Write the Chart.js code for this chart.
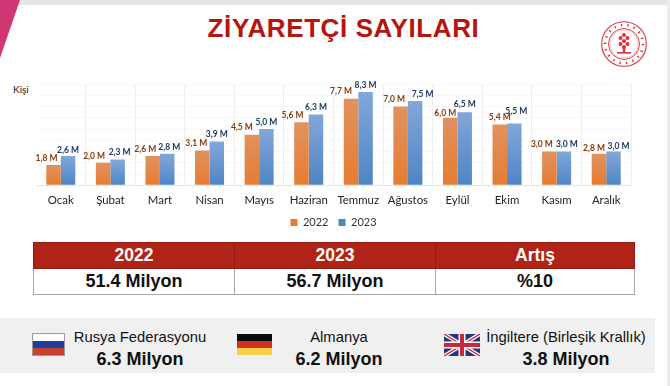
<!DOCTYPE html>
<html lang="tr">
<head>
<meta charset="utf-8">
<title>Ziyaretçi Sayıları</title>
<script src="https://cdn.jsdelivr.net/npm/chart.js@4/dist/chart.umd.min.js"></script>
<style>
html, body { margin: 0; padding: 0; background: #fff; }
#slide { position: relative; width: 670px; height: 386px; overflow: hidden; background: #fff; font-family: "Liberation Sans", Arial, sans-serif; color: #111; }
#slide > * { position: absolute; }
#topbar { left: 0; top: 0; width: 670px; height: 5px; background: #e6e6e6; }
#rightbar { left: 667px; top: 0; width: 3px; height: 386px; background: #ececec; }
#corner { left: 0; top: 0; }
#title { left: 0; width: 687px; top: 13px; text-align: center; font-weight: bold; font-size: 26px; letter-spacing: 0.6px; color: #b5140f; }
#kisi { left: 13px; top: 83px; font: 10px Lato, sans-serif; color: #222; }
#chartbox { left: 36px; top: 78px; width: 599px; height: 160px; }
#logo { left: 600px; top: 21px; }
table { left: 33px; top: 242px; width: 601px; height: 51px; border-collapse: collapse; table-layout: fixed; text-align: center; font-weight: bold; }
th { background: #b02418; color: #fff; font-size: 17.5px; height: 25px; padding: 0; border: 1px solid #8f1d13; }
td { font-size: 18px; height: 25px; padding: 0; border: 1px solid #a8a8a8; }
#band { left: 0; top: 318px; width: 655px; height: 55px; background: #f0f0f0; }
.c { text-align: center; width: 200px; font-size: 14.8px; line-height: 18px; }
.c b { display: block; font-size: 18px; line-height: 22px; margin-top: 2px; }
.flag { display: block; }
</style>
</head>
<body>
<div id="slide">
  <div id="topbar"></div>
  <div id="rightbar"></div>
  <svg id="corner" width="24" height="60"><polygon points="0,0 20,0 0,58" fill="#cf3672"/></svg>
  <div id="title">ZİYARETÇİ SAYILARI</div>
  <svg id="logo" width="48" height="48" viewBox="0 0 48 48" fill="none" stroke="#d9343c">
    <circle cx="24" cy="23" r="22.3" stroke-width="1.1"/>
    <circle cx="24" cy="23" r="19" stroke-width="2.6" stroke-dasharray="1.3 5.3"/>
    <circle cx="24" cy="23" r="15.5" stroke-width="0.9"/>
    <circle cx="24" cy="23" r="14" stroke-width="0.6" stroke-dasharray="1 1"/>
    <g fill="#d9343c" stroke="none">
      <circle cx="24" cy="14" r="2"/><circle cx="20.5" cy="17" r="2"/><circle cx="27.5" cy="17" r="2"/>
      <circle cx="24" cy="20" r="2"/><circle cx="20.5" cy="23" r="2"/><circle cx="27.5" cy="23" r="2"/>
      <circle cx="24" cy="26" r="2"/><rect x="22.8" y="26" width="2.4" height="6"/>
      <rect x="17" y="31" width="14" height="1.6"/>
    </g>
  </svg>
  <div id="kisi">Kişi</div>
  <div id="chartbox"><canvas id="visitors_chart"></canvas></div>
  <table>
    <colgroup><col style="width:201px"><col style="width:201px"><col style="width:199px"></colgroup>
    <tr><th>2022</th><th>2023</th><th>Artış</th></tr>
    <tr><td>51.4 Milyon</td><td>56.7 Milyon</td><td>%10</td></tr>
  </table>
  <div id="band"></div>
  <svg class="flag" style="left:32px;top:333px" width="33" height="23">
    <rect x="0.5" y="0.5" width="32" height="22" fill="#fff" stroke="#999"/>
    <rect x="1" y="8" width="31" height="7" fill="#1c3f9e"/>
    <rect x="1" y="15" width="31" height="7" fill="#c8402f"/>
  </svg>
  <div class="c" style="left:40px;top:328px">Rusya Federasyonu<b>6.3 Milyon</b></div>
  <svg class="flag" style="left:237px;top:334px" width="35" height="21">
    <rect width="35" height="7" fill="#0a0a0a"/>
    <rect y="7" width="35" height="7" fill="#d5301f"/>
    <rect y="14" width="35" height="7" fill="#f7d046"/>
  </svg>
  <div class="c" style="left:239px;top:328px">Almanya<b>6.2 Milyon</b></div>
  <svg class="flag" style="left:444px;top:334px" width="36" height="22" viewBox="0 0 36 22">
    <rect width="36" height="22" fill="#27357a"/>
    <path d="M0 0L36 22M36 0L0 22" stroke="#fff" stroke-width="4"/>
    <path d="M0 0L36 22M36 0L0 22" stroke="#c8283c" stroke-width="1.4"/>
    <path d="M18 0V22M0 11H36" stroke="#fff" stroke-width="7"/>
    <path d="M18 0V22M0 11H36" stroke="#c8283c" stroke-width="4"/>
  </svg>
  <div class="c" style="left:466px;top:328px;width:200px;white-space:nowrap">İngiltere (Birleşik Krallık)<b>3.8 Milyon</b></div>
</div>
<script>
let months = ['Ocak', 'Şubat', 'Mart', 'Nisan', 'Mayıs', 'Haziran', 'Temmuz', 'Ağustos', 'Eylül', 'Ekim', 'Kasım', 'Aralık'];
let visitors2022 = [1.8, 2.0, 2.6, 3.1, 4.5, 5.6, 7.7, 7.0, 6.0, 5.4, 3.0, 2.8];
let visitors2023 = [2.6, 2.3, 2.8, 3.9, 5.0, 6.3, 8.3, 7.5, 6.5, 5.5, 3.0, 3.0];

// bar fill fades a bit towards the top, like the slide
function barFill(top, bottom) {
    return function(ctx) {
        let chart = ctx.chart;
        if (!chart.chartArea || ctx.raw === undefined) return bottom;
        let g = chart.ctx.createLinearGradient(0, chart.scales.y.getPixelForValue(ctx.raw), 0, chart.chartArea.bottom);
        g.addColorStop(0, top);
        g.addColorStop(1, bottom);
        return g;
    };
}

// value labels were dragged by hand on the slide, so each one has its own nudge from the bar centre
let valueLabels = {
    id: 'valueLabels',
    afterDatasetsDraw: function(chart) {
        let c = chart.ctx;
        let nudgeX = [
            [-7, -9, -7.5, -6, -10, -9, -10, -6.5, -5, 0, -7.5, -5],
            [0, 2, 2, 0, 0, 0, 0, 7.5, 0, 2, 3, 5]
        ];
        let nudgeY = [
            [7, 7, 7, 7, 7, 7, 7, 7, 5, 7, 7, 6],
            [6, 7, 7, 7, 7, 7, 7, 7, 8, 12, 7, 5]
        ];
        let colors = ['#843c0c', '#1f3864'];
        c.save();
        c.font = 'bold 8.5px Lato, sans-serif';
        c.textAlign = 'center';
        c.textBaseline = 'middle';
        chart.data.datasets.forEach(function(ds, d) {
            c.fillStyle = colors[d];
            chart.getDatasetMeta(d).data.forEach(function(bar, i) {
                let text = ds.data[i].toFixed(1).replace('.', ',') + ' M';
                c.fillText(text, bar.x + nudgeX[d][i], bar.y - nudgeY[d][i]);
            });
        });
        c.restore();
    }
};

let visitorsChart = new Chart(document.getElementById('visitors_chart'), {
    type: 'bar',
    data: {
        labels: months,
        datasets: [
            {
                label: '2022',
                data: visitors2022,
                backgroundColor: barFill('#e0925f', '#e67c32'),
                categoryPercentage: 0.585,
                barPercentage: 1
            },
            {
                label: '2023',
                data: visitors2023,
                backgroundColor: barFill('#82a7d9', '#4e85c5'),
                categoryPercentage: 0.585,
                barPercentage: 1
            }
        ]
    },
    options: {
        responsive: true,
        maintainAspectRatio: false,
        animation: false,
        layout: { padding: { top: 6, right: 4, bottom: 0, left: 0 } },
        scales: {
            x: {
                grid: { color: '#ececec', drawTicks: false },
                border: { color: '#e4e4e4' },
                ticks: { color: '#222', font: { family: 'Lato', size: 11.4 }, padding: 8, maxRotation: 0, autoSkip: false },
                // legend sits close under the month names
                afterFit: function(scale) { scale.height -= 8; }
            },
            y: {
                min: 0,
                max: 9,
                grid: { color: '#f7f7f7', drawTicks: false },
                border: { display: false },
                ticks: { display: false, stepSize: 1 }
            }
        },
        plugins: {
            tooltip: { enabled: false },
            legend: {
                position: 'bottom',
                labels: { boxWidth: 7, boxHeight: 7, padding: 10, color: '#333', font: { family: 'Lato', size: 11 } }
            }
        }
    },
    plugins: [valueLabels]
});
</script>
</body>
</html>
